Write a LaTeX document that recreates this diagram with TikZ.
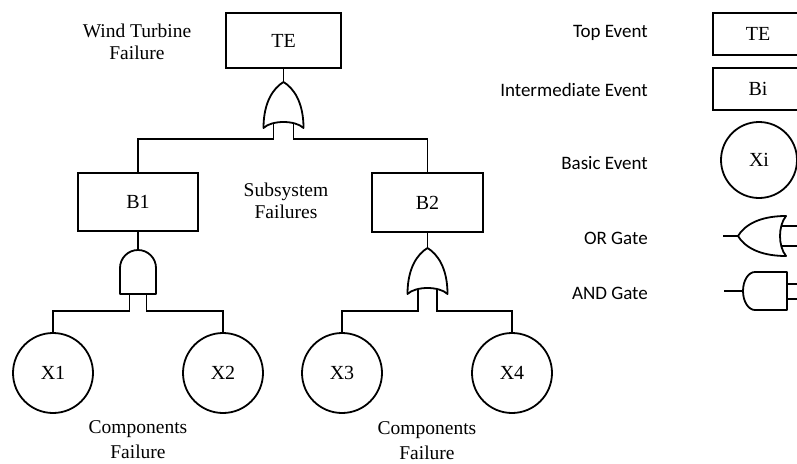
\documentclass[tikz,border=0pt]{standalone}
\usepackage{fontspec}
\setmainfont{Liberation Serif}
\newfontfamily\legendfont{Carlito}

\begin{document}
\begin{tikzpicture}[x=1pt, y=-1pt, line width=1.8pt,
    evbox/.style={draw, rectangle, inner sep=0pt, outer sep=0pt, font=\fontsize{20}{24}\selectfont},
    basic/.style={draw, circle, inner sep=0pt, outer sep=0pt, font=\fontsize{20}{24}\selectfont},
    note/.style={align=center, inner sep=0pt, font=\fontsize{19.5}{22}\selectfont},
    legend/.style={anchor=east, font=\legendfont\fontsize{19}{22}\selectfont},
    gate/.style={line join=round}]
    
    \useasboundingbox (0,0) rectangle (797,463);
    
    \node[evbox, minimum width=115pt, minimum height=55pt] (TE) at (283.5,40.5) {TE};
    \node[evbox, minimum width=120pt, minimum height=58pt] (B1) at (138,202) {B1};
    \node[evbox, minimum width=111pt, minimum height=59pt] (B2) at (427.5,202.5) {B2};
    
    \node[basic, minimum size=80pt] (X1) at (53,373) {X1};
    \node[basic, minimum size=80pt] (X2) at (223,373) {X2};
    \node[basic, minimum size=80pt] (X3) at (342,373) {X3};
    \node[basic, minimum size=80pt] (X4) at (512,373) {X4};
    
    \coordinate (orA) at (283.5,82);
    \coordinate (orAl) at (273.5,123);
    \coordinate (orAr) at (293.5,123);
    \coordinate (andB) at (138,250);
    \coordinate (andBl) at (129.5,294);
    \coordinate (andBr) at (146.5,294);
    \coordinate (orB) at (427.5,248);
    \coordinate (orBl) at (418,289);
    \coordinate (orBr) at (437,289);
    
    \draw[gate, shift={(orA)}] (0,0) .. controls (10,6) and (20,20) .. (20,46) .. controls (12,38) and (-12,38) .. (-20,46) .. controls (-20,20) and (-10,6) .. (0,0) -- cycle;
    \draw[gate, shift={(andB)}] (-18,44) -- (-18,18) arc[start angle=180, end angle=360, radius=18] -- (18,44) -- cycle;
    \draw[gate, shift={(orB)}] (0,0) .. controls (10,6) and (20,20) .. (20,46) .. controls (12,38) and (-12,38) .. (-20,46) .. controls (-20,20) and (-10,6) .. (0,0) -- cycle;
    
    \draw (TE) -- (orA);
    \draw (orAl) -- ++(0,16) -| (B1);
    \draw (orAr) -- ++(0,16) -| (B2);
    \draw (B1) -- (andB);
    \draw (andBl) -- ++(0,17) -| (X1);
    \draw (andBr) -- ++(0,17) -| (X2);
    \draw (B2) -- (orB);
    \draw (orBl) -- ++(0,22) -| (X3);
    \draw (orBr) -- ++(0,22) -| (X4);
    
    \node[note] (wtf) at (137,42) {Wind Turbine\\Failure};
    \node[note] (ssf) at (286,201) {Subsystem\\Failures};
    \node[note, font=\fontsize{19.5}{25}\selectfont] (cfl) at (138,440) {Components\\Failure};
    \node[note, font=\fontsize{19.5}{25}\selectfont] (cfr) at (427,441) {Components\\Failure};
    
    \node[legend] (lgTop) at (652,33) {Top Event};
    \node[legend] (lgInt) at (652,90) {Intermediate Event};
    \node[legend] (lgBas) at (652,163) {Basic Event};
    \node[legend] (lgOr) at (652,238) {OR Gate};
    \node[legend] (lgAnd) at (652,293) {AND Gate};
    
    \node[evbox, minimum width=90pt, minimum height=42pt] (lgTE) at (758,34) {TE};
    \node[evbox, minimum width=90pt, minimum height=42pt] (lgBi) at (758,89) {Bi};
    \node[basic, minimum size=76pt] (lgXi) at (759,160) {Xi};
    
    \coordinate (lgORtip) at (738,236);
    \coordinate (lgORin) at (723,236);
    \coordinate (lgANDtip) at (743,291);
    \coordinate (lgANDin) at (724,291);
    
    \draw[gate] (lgORtip) .. controls (744,226) and (758,216) .. (786,216) .. controls (778,226) and (778,246) .. (786,256) .. controls (758,256) and (744,246) .. (lgORtip) -- cycle;
    \draw (lgORin) -- (lgORtip);
    \draw (781.5,226) -- (800,226);
    \draw (781.5,246) -- (800,246);
    
    \draw[gate] (787,272) -- (755,272) arc[start angle=270, end angle=90, x radius=12, y radius=19] -- (787,310) -- cycle;
    \draw (lgANDin) -- (lgANDtip);
    \draw (787,284) -- (800,284);
    \draw (787,299) -- (800,299);
    
\end{tikzpicture}
\end{document}
